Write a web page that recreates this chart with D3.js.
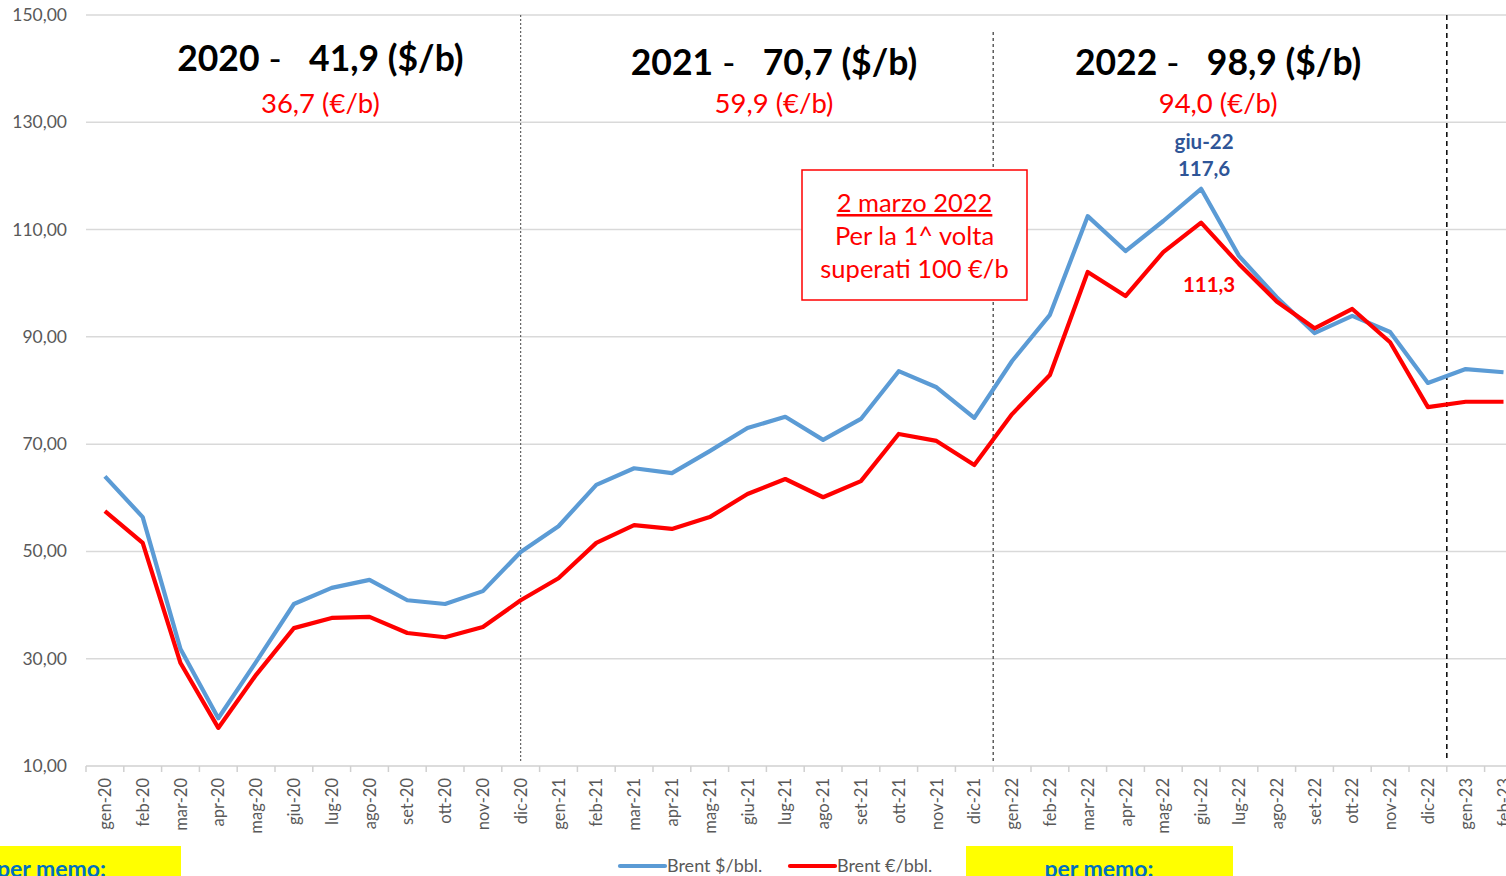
<!DOCTYPE html>
<html><head><meta charset="utf-8">
<script src="https://cdn.jsdelivr.net/npm/d3@7"></script>
<style>
html,body{margin:0;padding:0;background:#fff;overflow:hidden;}
text{font-family:Lato,"Open Sans",sans-serif;}
</style></head>
<body><svg id="c" width="1506" height="876"></svg>
<script>
const categories = ["gen-20","feb-20","mar-20","apr-20","mag-20","giu-20","lug-20","ago-20","set-20","ott-20","nov-20","dic-20",
"gen-21","feb-21","mar-21","apr-21","mag-21","giu-21","lug-21","ago-21","set-21","ott-21","nov-21","dic-21",
"gen-22","feb-22","mar-22","apr-22","mag-22","giu-22","lug-22","ago-22","set-22","ott-22","nov-22","dic-22",
"gen-23","feb-23"];
const brentUSD = [64.0,56.4,31.8,18.9,29.4,40.2,43.2,44.7,40.9,40.2,42.6,49.9,
54.7,62.4,65.5,64.6,68.7,73.0,75.1,70.8,74.7,83.6,80.6,74.9,
85.5,94.1,112.5,106.0,111.6,117.6,105.1,97.4,90.7,93.9,90.9,81.4,
84.0,83.4];
const brentEUR = [57.5,51.6,29.2,17.1,27.0,35.7,37.6,37.8,34.8,34.0,35.9,40.9,
45.0,51.6,54.9,54.2,56.4,60.7,63.5,60.1,63.1,71.9,70.6,66.1,
75.6,82.9,102.1,97.6,105.8,111.3,103.6,96.6,91.6,95.2,89.0,76.9,
77.9,77.9];
const yTicks = [10,30,50,70,90,110,130,150];
const seriesNames = ["Brent $/bbl.","Brent €/bbl."];
const yearTitles = [
  {year:"2020", usd:"41,9", eur:"36,7", center:"giu-20", shift:0.7},
  {year:"2021", usd:"70,7", eur:"59,9", center:"giu-21", shift:0.7},
  {year:"2022", usd:"98,9", eur:"94,0", center:"giu-22", shift:0.45}
];
const separators = [{cat:"dic-20", pos:0.5},{cat:"dic-21", pos:1},{cat:"dic-22", pos:1}];

const svg = d3.select("#c");
const left = 86, bandW = 37.8;
const x = d3.scaleBand().domain(categories).range([left, left + bandW*categories.length]).padding(0);
const y = d3.scaleLinear().domain([10,150]).range([766,15]);
const cx = c => x(c) + x.bandwidth()/2;

// gridlines
svg.append("g").selectAll("line").data(yTicks.filter(t=>t>10)).join("line")
  .attr("x1", left).attr("x2", 1506).attr("y1", d=>y(d)).attr("y2", d=>y(d))
  .attr("stroke", "#d9d9d9").attr("stroke-width", 1.5);

// y labels
svg.append("g").selectAll("text").data(yTicks).join("text")
  .attr("x", 67).attr("y", d=>y(d)+6).attr("text-anchor","end")
  .attr("font-size", 17.5).attr("fill","#595959")
  .text(d=>d3.format(".2f")(d).replace(".",","));

// x axis
const gx = svg.append("g").attr("transform","translate(0,766)");
gx.append("line").attr("x1",left).attr("x2",1506).attr("stroke","#d0d0d0").attr("stroke-width",1.5);
gx.selectAll("line.tk").data(d3.range(categories.length+1)).join("line").attr("class","tk")
  .attr("x1", i=>left+i*x.bandwidth()).attr("x2", i=>left+i*x.bandwidth())
  .attr("y1",0).attr("y2",6).attr("stroke","#d0d0d0").attr("stroke-width",1.5);
gx.selectAll("text").data(categories).join("text")
  .attr("transform", d=>`translate(${cx(d)+6},12) rotate(-90)`)
  .attr("text-anchor","end").attr("font-size",16.5).attr("fill","#595959")
  .text(d=>d);

// separators
svg.append("g").selectAll("line").data(separators).join("line")
  .attr("x1", d=>x(d.cat)+d.pos*x.bandwidth()).attr("x2", d=>x(d.cat)+d.pos*x.bandwidth())
  .attr("y1", (d,i)=> i===1 ? 32 : 15).attr("y2", 762)
  .attr("stroke", (d,i)=> i===2 ? "#111" : "#444")
  .attr("stroke-width", (d,i)=> i===0 ? 1 : (i===1 ? 1.3 : 1.6))
  .attr("stroke-dasharray", (d,i)=> i===0 ? "2,2" : (i===1 ? "3,3" : "5,4"));

// lines
const line = d3.line().x((d,i)=>cx(categories[i])).y(d=>y(d));
svg.append("path").datum(brentUSD).attr("d",line).attr("fill","none")
  .attr("stroke","#5b9bd5").attr("stroke-width",4.2).attr("stroke-linejoin","round");
svg.append("path").datum(brentEUR).attr("d",line).attr("fill","none")
  .attr("stroke","#ff0000").attr("stroke-width",4.2).attr("stroke-linejoin","round");

// year titles
const tg = svg.append("g");
yearTitles.forEach((t,i)=>{
  const xc = cx(t.center) + t.shift*x.bandwidth();
  const tt = tg.append("text").attr("x", xc).attr("y", i===0?71:75).attr("text-anchor","middle")
    .attr("font-size",35.5).attr("font-weight","bold").attr("fill","#000");
  tt.append("tspan").text(t.year);
  tt.append("tspan").attr("font-weight","normal").text(" -\u00a0\u00a0 ");
  tt.append("tspan").text(`${t.usd} ($/b)`);
  tg.append("text").attr("x", xc).attr("y",113).attr("text-anchor","middle")
    .attr("font-size",27.5).attr("fill","#ff0000").text(`${t.eur} (€/b)`);
});

// peak labels
const pk = categories.indexOf("giu-22");
svg.append("text").attr("x",cx("giu-22")+3).attr("y",149).attr("text-anchor","middle")
  .attr("font-size",20.5).attr("font-weight","bold").attr("fill","#2f5597").text("giu-22");
svg.append("text").attr("x",cx("giu-22")+3).attr("y",176).attr("text-anchor","middle")
  .attr("font-size",20.5).attr("font-weight","bold").attr("fill","#2f5597")
  .text(d3.format(".1f")(brentUSD[pk]).replace(".",","));
svg.append("text").attr("x",cx("giu-22")+8).attr("y",292).attr("text-anchor","middle")
  .attr("font-size",20.5).attr("font-weight","bold").attr("fill","#ff0000")
  .text(d3.format(".1f")(brentEUR[pk]).replace(".",","));

// annotation box
const ab = svg.append("g");
ab.append("rect").attr("x",802).attr("y",170).attr("width",225).attr("height",130)
  .attr("fill","#fff").attr("stroke","#ff0000").attr("stroke-width",1.5);
["2 marzo 2022","Per la 1^ volta","superati 100 €/b"].forEach((s,i)=>{
  ab.append("text").attr("x",914.5).attr("y",212+i*33).attr("text-anchor","middle")
    .attr("font-size",25.5).attr("fill","#ff0000")
    .attr("text-decoration", i===0 ? "underline" : null).text(s);
});

// legend
const lg = svg.append("g");
const legendItems = [{name:seriesNames[0], color:"#5b9bd5", x:620},{name:seriesNames[1], color:"#ff0000", x:790}];
legendItems.forEach(d=>{
  lg.append("line").attr("x1",d.x).attr("x2",d.x+45).attr("y1",866).attr("y2",866)
    .attr("stroke",d.color).attr("stroke-width",4.2).attr("stroke-linecap","round");
  lg.append("text").attr("x",d.x+47).attr("y",872).attr("font-size",18).attr("fill","#595959").text(d.name);
});

// yellow memo boxes
const memo = [{x:0,w:181,tx:-3,anchor:"start"},{x:966,w:267,tx:1099,anchor:"middle"}];
memo.forEach(m=>{
  svg.append("rect").attr("x",m.x).attr("y",846).attr("width",m.w).attr("height",40).attr("fill","#ffff00");
  svg.append("text").attr("x",m.tx).attr("y",877).attr("text-anchor",m.anchor)
    .attr("font-size",23).attr("font-weight","bold").attr("fill","#0070c0").text("per memo:");
});
</script></body></html>
